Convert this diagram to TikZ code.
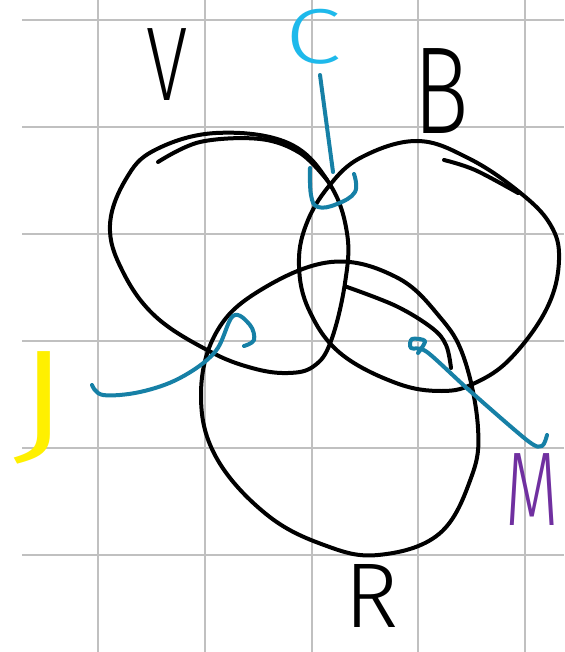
\documentclass[tikz,border=0pt]{standalone}
\usepackage{fontspec}
\newfontfamily\hand{Fira Sans Light}
\definecolor{gridgray}{RGB}{192,192,192}
\definecolor{ccyan}{RGB}{30,185,235}
\definecolor{pteal}{RGB}{22,128,166}
\definecolor{jyellow}{RGB}{255,240,0}
\definecolor{mpurple}{RGB}{112,48,160}
\begin{document}
\begin{tikzpicture}[x=1pt,y=-1pt,
  gridline/.style={gridgray,line width=2pt},
  setline/.style={black,line width=4pt,line cap=round,line join=round},
  pointer/.style={pteal,line width=4pt,line cap=round,line join=round},
  lab/.style={inner sep=0pt,font=\hand}]
\useasboundingbox (0,0) rectangle (564,652);
\fill[white] (0,0) rectangle (564,652);
% grid
\foreach \x in {98,205,312,418,525} \draw[gridline] (\x,0) -- (\x,652);
\foreach \y in {20,127,234,341,448,555} \draw[gridline] (22,\y) -- (564,\y);
% V set
\draw[setline] plot[smooth cycle,tension=0.65] coordinates {
  (216,133) (288,143) (329,183) (347,233) (345,283) (331,341) (314,366)
  (288,373) (252,368) (209,351) (155,316) (122,270) (110,225) (126,179) (155,150)};
\draw[setline] plot[smooth,tension=0.6] coordinates {(158,162) (200,142) (260,139) (300,153) (327,180)};
% B set
\draw[setline] plot[smooth cycle,tension=0.65] coordinates {
  (417,141) (468,158) (518,191) (550,224) (559,260) (547,308) (511,358) (475,383)
  (442,391) (396,383) (340,353) (309,310) (299,266) (306,225) (329,186) (362,157)};
\draw[setline] plot[smooth,tension=0.6] coordinates {(444,160) (475,170) (518,193)};
% R set
\draw[setline] plot[smooth cycle,tension=0.65] coordinates {
  (331,262) (396,277) (439,316) (464,358) (478,428) (471,478) (439,534)
  (378,555) (324,545) (266,514) (216,457) (201,395) (216,333) (259,291)};
\draw[setline] plot[smooth,tension=0.6] coordinates {(347,287) (396,306) (432,328) (446,345) (451,368)};
% labels
\node[lab,font=\hand\fontsize{105}{105}\selectfont] (V) at (167,65) {\scalebox{0.72}[1]{V}};
\node[lab,text=ccyan,font=\hand\fontsize{78}{78}\selectfont] (C) at (313,37) {\scalebox{1.3}[1]{C}};
\node[lab,font=\hand\fontsize{124}{124}\selectfont] (B) at (441,91) {\scalebox{0.75}[1]{B}};
\node[lab,text=jyellow,font=\hand\fontsize{140}{140}\selectfont] (J) at (42,408) {\scalebox{1.5}[1]{J}};
\node[lab,text=mpurple,font=\hand\fontsize{105}{105}\selectfont,anchor=west] (M) at (505,490) {\scalebox{0.66}[1]{M}};
\node[lab,font=\hand\fontsize{92}{92}\selectfont] (R) at (372,596) {\scalebox{1.0}[1]{R}};
% pointer ends
\coordinate (cstart) at (320,75);
\coordinate (cend) at (333,172);
\coordinate (jstart) at (92,385);
\coordinate (jend) at (244,346);
\coordinate (mstart) at (547,435);
\coordinate (mend) at (418,353);
% pointers
\draw[pointer] (cstart) -- (cend);
\draw[pointer] plot[smooth,tension=0.7] coordinates {(310,168) (311,195) (318,207) (337,204) (355,192) (354,174)};
\draw[pointer] plot[smooth,tension=0.6] coordinates {(jstart) (103,395) (140,392) (180,378) (215,352) (233,316) (250,325) (254,340) (jend)};
\draw[pointer] plot[smooth,tension=0.5] coordinates {(mstart) (542,446) (528,441) (470,391) (427,352) (411,348) (412,339) (425,341) (mend)};
\end{tikzpicture}
\end{document}
